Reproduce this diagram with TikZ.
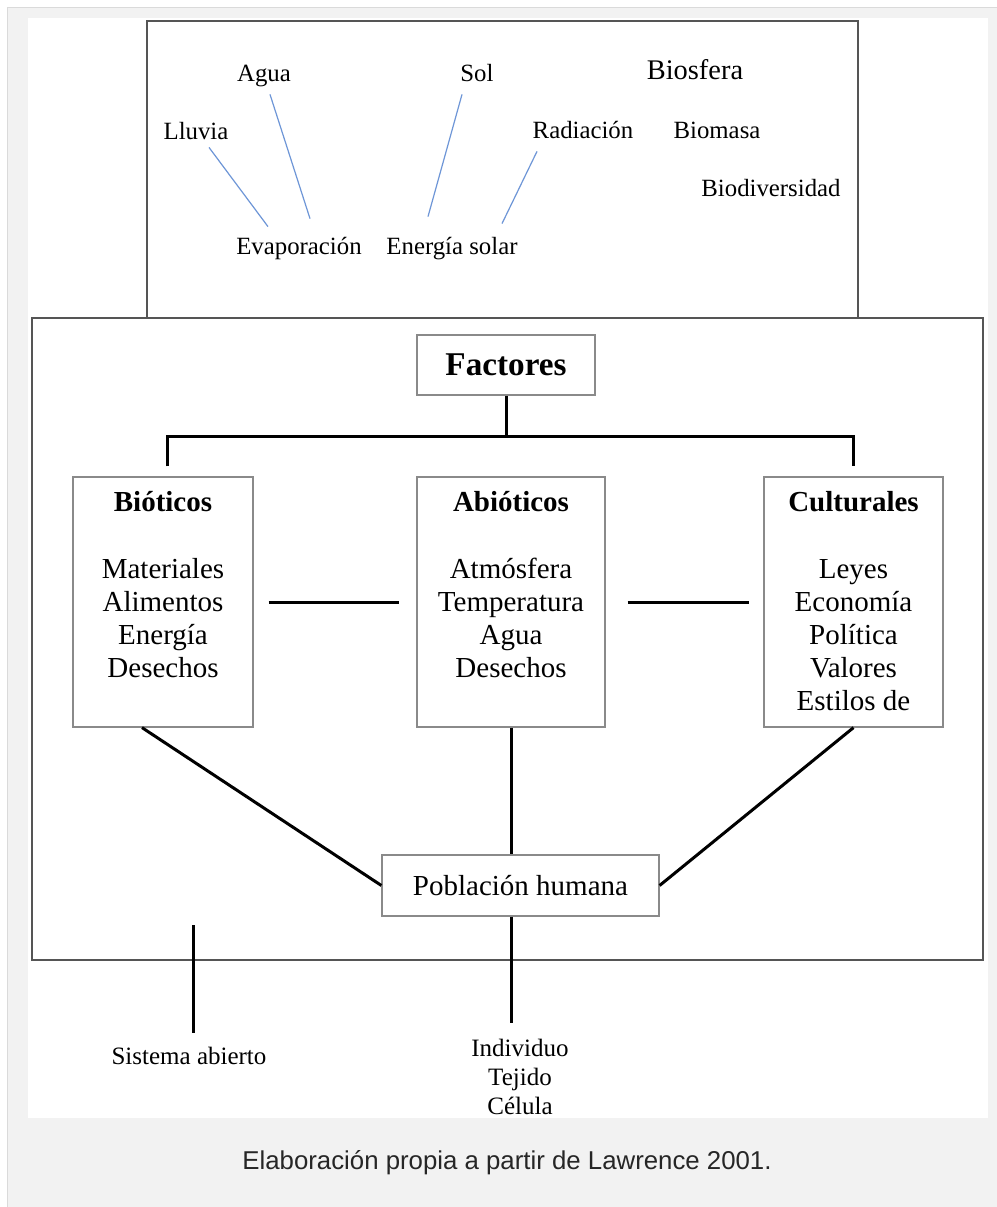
\documentclass[tikz,border=0pt]{standalone}
\usepackage{fontspec}
\setmainfont{Liberation Serif}
\newfontfamily\captionsans{Liberation Sans}
\usetikzlibrary{positioning}
\definecolor{panelgray}{HTML}{F2F2F2}
\definecolor{edgegray}{HTML}{DADADA}
\definecolor{framegray}{HTML}{555555}
\definecolor{boxgray}{HTML}{8A8A8A}
\definecolor{flowblue}{RGB}{110,150,215}

\begin{document}
\begin{tikzpicture}[x=0.5pt,y=-0.5pt,
    word/.style={inner sep=1pt,text height=9pt,text depth=3pt,font=\fontsize{12.4}{14}\selectfont},
    factorbox/.style={rectangle,draw=boxgray,line width=0.6pt,inner sep=0pt,minimum height=125pt},
    boxtext/.style={anchor=north,inner sep=0pt,align=center,font=\fontsize{14.5}{16.5}\selectfont},
    link/.style={line width=1.5pt},
    flow/.style={color=flowblue,line width=0.6pt}]
    \useasboundingbox (0,0) rectangle (997,1207);
    \fill [white] (0,0) rectangle (997,1207);
    \draw [edgegray,fill=panelgray] (7,1212) -- (7,7) -- (1002,7) -- (1002,1212) -- cycle;
    \fill [white] (28,18) rectangle (988,1118);
    \draw [framegray,line width=1pt] (147,21) rectangle (858,318);
    \draw [framegray,line width=1.1pt] (32,318) rectangle (983,960);
    \node (agua) [word] at (264,75) {Agua};
    \node (sol) [word] at (477,75) {Sol};
    \node (bios) [word,font=\fontsize{14.2}{16}\selectfont] at (695,73) {Biosfera};
    \node (lluv) [word] at (196,133) {Lluvia};
    \node (rad) [word] at (583,132) {Radiación};
    \node (biom) [word] at (717,132) {Biomasa};
    \node (biod) [word] at (771,190) {Biodiversidad};
    \node (evap) [word] at (299,248) {Evaporación};
    \node (ener) [word] at (452,248) {Energía solar};
    \draw [flow] ([xshift=6.5pt]lluv.south) -- ([xshift=-15.5pt,yshift=3.5pt]evap.north);
    \draw [flow] ([xshift=3pt,yshift=-2.5pt]agua.south) -- ([xshift=5.5pt,yshift=7.5pt]evap.north);
    \draw [flow] ([xshift=-7.5pt,yshift=-2.5pt]sol.south) -- ([xshift=-12pt,yshift=8.5pt]ener.north);
    \draw [flow] ([xshift=-23pt,yshift=-2.5pt]rad.south) -- ([xshift=25pt,yshift=5pt]ener.north);
    \node (fac) [factorbox,minimum width=89pt,minimum height=30pt,font=\fontsize{16.6}{18}\selectfont\bfseries] at (506,365) {Factores};
    \node (bio) [factorbox,minimum width=90pt] at (163,602) {};
    \node (abio) [factorbox,minimum width=94pt] at (511,602) {};
    \node (cul) [factorbox,minimum width=89.5pt] at (853.5,602) {};
    \node (biotxt) [boxtext,below=7.5pt of bio.north] {\textbf{Bióticos}\\[17pt]Materiales\\Alimentos\\Energía\\Desechos};
    \node (abiotxt) [boxtext,below=7.5pt of abio.north] {\textbf{Abióticos}\\[17pt]Atmósfera\\Temperatura\\Agua\\Desechos};
    \node (cultxt) [boxtext,below=7.5pt of cul.north] {\textbf{Culturales}\\[17pt]Leyes\\Economía\\Política\\Valores\\Estilos de};
    \node (pob) [factorbox,minimum width=138.5pt,minimum height=30.5pt,font=\fontsize{14.5}{16.5}\selectfont] at (520.5,885.5) {Población humana};
    \coordinate (split) at (506,436);
    \draw [link] (fac) -- (split);
    \draw [link] ([xshift=2pt,yshift=5pt]bio.north) |- (split) -| ([yshift=5pt]cul.north);
    \draw [link,shorten <=7.5pt,shorten >=8.5pt] (bio) -- (abio);
    \draw [link,shorten <=11pt,shorten >=7pt] (abio) -- (cul);
    \draw [link] (abio.south) -- (abio.south |- pob.north);
    \draw [link] ([xshift=-10.5pt]bio.south) -- (pob.west);
    \draw [link] (cul.south) -- (pob.east);
    \node (sis) [word,font=\fontsize{12.5}{14}\selectfont] at (189,1058) {Sistema abierto};
    \node (ind) [align=center,inner sep=1pt,font=\fontsize{12.5}{14.5}\selectfont] at (520,1076.5) {Individuo\\Tejido\\Célula};
    \draw [link,shorten >=6.5pt] (abio.south |- pob.south) -- (abio.south |- ind.north);
    \coordinate (open) at (193,925);
    \draw [link,shorten >=5.5pt] (open) -- (open |- sis.north);
    \node (cap) [font=\captionsans\fontsize{12.9}{15}\selectfont,color=black!85] at (507,1163) {Elaboración propia a partir de Lawrence 2001.};
\end{tikzpicture}
\end{document}
